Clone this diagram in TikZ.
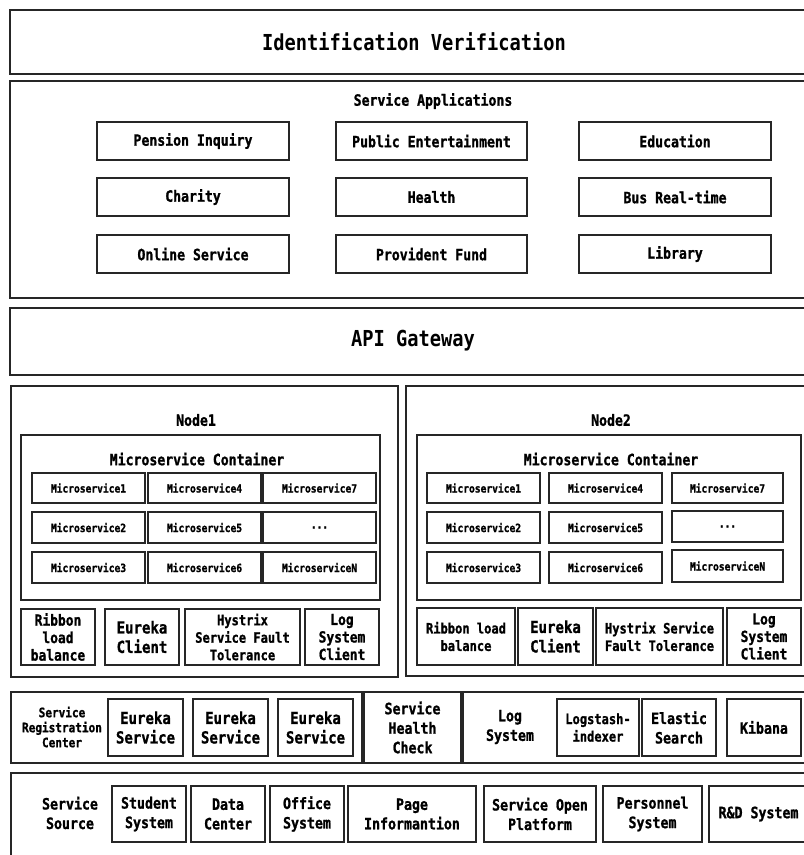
\documentclass[tikz,border=0pt]{standalone}
\usepackage{fontspec}
\newfontfamily\hei[FakeStretch=0.85,BoldFeatures={FakeBold=1.2}]{DejaVu Sans Mono}
\newfontfamily\heim[FakeStretch=0.85]{DejaVu Sans Mono}
\newcommand\fsz[2]{\fontsize{#1}{#2}\selectfont}
\tikzset{
  box/.style={draw=black!85, line width=1.7pt, inner sep=0pt, align=center},
  lbl/.style={inner sep=0pt, align=center},
  big/.style={font=\heim\bfseries\fsz{22}{26}},
  app/.style={font=\hei\bfseries\fsz{15.5}{19}},
  ms/.style={font=\hei\bfseries\fsz{11.3}{14}},
  sm/.style={font=\hei\bfseries\fsz{14.2}{17.5}},
  md/.style={font=\hei\bfseries\fsz{15.6}{19.5}},
  mdt/.style={font=\hei\bfseries\fsz{15.2}{17.5}},
  lg/.style={font=\hei\bfseries\fsz{16.5}{19.5}},
  src/.style={font=\hei\bfseries\fsz{13}{15}},
}
\newcommand\bx[7][]{%
  \pgfmathsetmacro\bxw{#5-#3}\pgfmathsetmacro\bxh{#6-#4}%
  \pgfmathsetmacro\bxx{(#3+#5)/2}\pgfmathsetmacro\bxy{(#4+#6)/2}%
  \node[box,minimum width=\bxw pt,minimum height=\bxh pt,#1] (#2) at (\bxx,\bxy) {#7};}
\begin{document}
\begin{tikzpicture}[x=1pt,y=-1pt]
\useasboundingbox (0,0) rectangle (804,855);
\clip (0,0) rectangle (804,855);
% Identification Verification
\bx{idv}{10}{10}{830}{74}{}
\node[lbl,big] (idvT) at (414,42) {Identification Verification};
% Service Applications
\bx{sa}{10}{81}{830}{298}{}
\node[lbl,app] (saT) at (433,101) {Service Applications};
\bx[app]{a1}{97}{122}{289}{160}{Pension Inquiry}
\bx[app]{a2}{336}{122}{527}{160}{Public Entertainment}
\bx[app]{a3}{579}{122}{771}{160}{Education}
\bx[app]{a4}{97}{178}{289}{216}{Charity}
\bx[app]{a5}{336}{178}{527}{216}{Health}
\bx[app]{a6}{579}{178}{771}{216}{Bus Real-time}
\bx[app]{a7}{97}{235}{289}{273}{Online Service}
\bx[app]{a8}{336}{235}{527}{273}{Provident Fund}
\bx[app]{a9}{579}{235}{771}{273}{Library}
% API Gateway
\bx{api}{10}{308}{830}{375}{}
\node[lbl,big] (apiT) at (413,341) {API Gateway};
% Node1
\bx{n1}{11}{386}{398}{677}{}
\node[lbl,app] (n1T) at (196,420) {Node1};
\bx{c1}{21}{435}{380}{600}{}
\node[lbl,app] (c1T) at (197,459) {Microservice Container};
\bx[ms]{m11}{32}{473}{145}{503}{Microservice1}
\bx[ms]{m14}{148}{473}{261}{503}{Microservice4}
\bx[ms]{m17}{263}{473}{376}{503}{Microservice7}
\bx[ms]{m12}{32}{512}{145}{543}{Microservice2}
\bx[ms]{m15}{148}{512}{261}{543}{Microservice5}
\bx[ms]{m1d}{263}{512}{376}{543}{...}
\bx[ms]{m13}{32}{552}{145}{583}{Microservice3}
\bx[ms]{m16}{148}{552}{261}{583}{Microservice6}
\bx[ms]{m1n}{263}{552}{376}{583}{MicroserviceN}
\bx[mdt]{r1}{21}{609}{95}{665}{Ribbon\\load\\balance}
\bx[lg]{e1}{105}{609}{179}{665}{Eureka\\Client}
\bx[sm]{h1}{185}{609}{300}{665}{Hystrix\\Service Fault\\Tolerance}
\bx[mdt]{l1}{305}{609}{379}{665}{Log\\System\\Client}
% Node2
\bx{n2}{406}{386}{830}{676}{}
\node[lbl,app] (n2T) at (611,420) {Node2};
\bx{c2}{417}{435}{801}{600}{}
\node[lbl,app] (c2T) at (611,459) {Microservice Container};
\bx[ms]{m21}{427}{473}{540}{503}{Microservice1}
\bx[ms]{m24}{549}{473}{662}{503}{Microservice4}
\bx[ms]{m27}{672}{473}{783}{503}{Microservice7}
\bx[ms]{m22}{427}{512}{540}{543}{Microservice2}
\bx[ms]{m25}{549}{512}{662}{543}{Microservice5}
\bx[ms]{m2d}{672}{511}{783}{542}{...}
\bx[ms]{m23}{427}{552}{540}{583}{Microservice3}
\bx[ms]{m26}{549}{552}{662}{583}{Microservice6}
\bx[ms]{m2n}{672}{550}{783}{582}{MicroserviceN}
\bx[sm]{r2}{417}{608}{515}{665}{Ribbon load\\balance}
\bx[lg]{e2}{518}{608}{593}{665}{Eureka\\Client}
\bx[sm]{h2}{596}{608}{723}{665}{Hystrix Service\\Fault Tolerance}
\bx[mdt]{l2}{727}{608}{801}{665}{Log\\System\\Client}
% Registration / health / log
\bx{src}{11}{692}{362}{763}{}
\node[lbl,src] (srcT) at (62,727) {Service\\Registration\\Center};
\bx[lg]{es1}{108}{699}{183}{756}{Eureka\\Service}
\bx[lg]{es2}{193}{699}{268}{756}{Eureka\\Service}
\bx[lg]{es3}{278}{699}{353}{756}{Eureka\\Service}
\bx[md]{shc}{364}{692}{461}{763}{Service\\Health\\Check}
\bx{log}{463}{692}{830}{763}{}
\node[lbl,md] (logT) at (510,727) {Log\\System};
\bx[sm]{lsi}{557}{699}{639}{756}{Logstash-\\indexer}
\bx[md]{els}{642}{699}{716}{756}{Elastic\\Search}
\bx[md]{kib}{727}{699}{801}{756}{Kibana}
% Service Source
\bx{ss}{11}{773}{830}{880}{}
\node[lbl,md] (ssT) at (70,813) {Service\\Source};
\bx[md]{s1}{112}{786}{186}{842}{Student\\System}
\bx[md]{s2}{191}{786}{265}{842}{Data\\Center}
\bx[md]{s3}{270}{786}{344}{842}{Office\\System}
\bx[md]{s4}{348}{786}{476}{842}{Page\\Informantion}
\bx[md]{s5}{484}{786}{596}{842}{Service Open\\Platform}
\bx[md]{s6}{603}{786}{702}{842}{Personnel\\System}
\bx[md]{s7}{709}{786}{808}{842}{R\&D System}
\end{tikzpicture}
\end{document}
